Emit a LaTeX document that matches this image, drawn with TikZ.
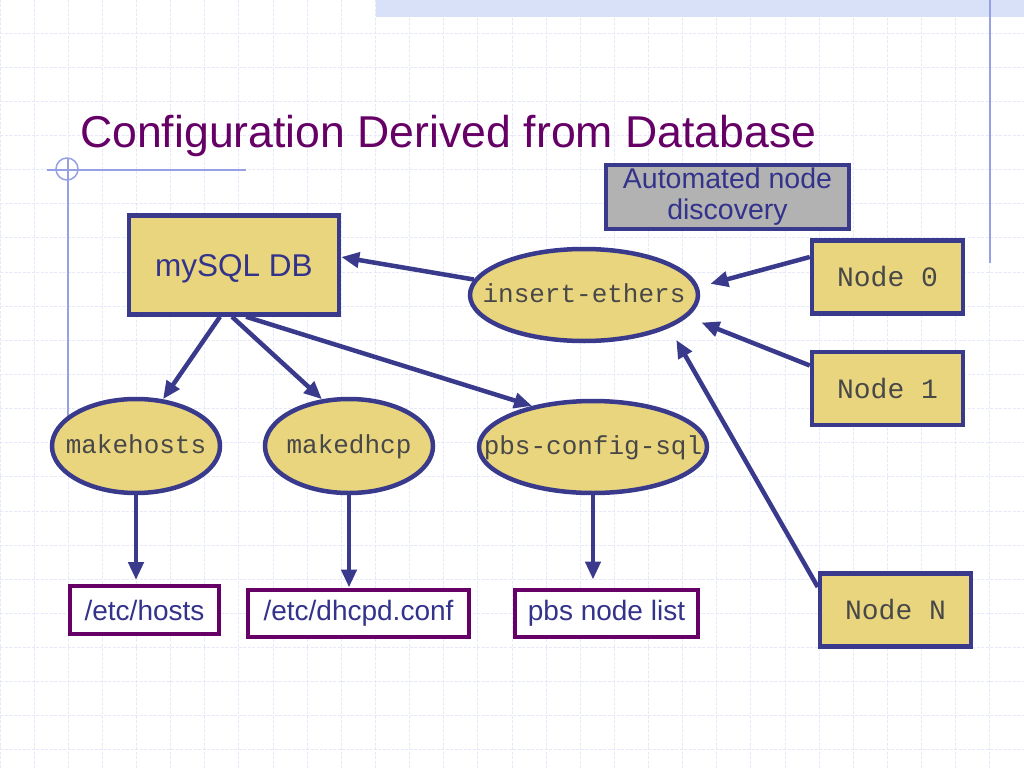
\documentclass[tikz,border=0pt]{standalone}
\usepackage{fontspec}
\setmainfont{Liberation Sans}
\setmonofont{Liberation Mono}
\usetikzlibrary{shapes.geometric,arrows.meta}
\definecolor{slidegrid}{RGB}{230,233,249}
\definecolor{bandblue}{RGB}{216,225,248}
\definecolor{decoline}{RGB}{150,160,228}
\definecolor{titlepurple}{RGB}{102,0,102}
\definecolor{boxblue}{RGB}{58,58,140}
\definecolor{textblue}{RGB}{51,51,140}
\definecolor{boxyellow}{RGB}{233,213,125}
\definecolor{boxgray}{RGB}{178,178,178}
\definecolor{monogray}{RGB}{72,72,72}

\begin{document}
\begin{tikzpicture}[x=1pt,y=-1pt]
      \tikzstyle{every node}+=[inner sep=0pt]
      \tikzstyle{gridline}=[slidegrid, line width=1pt, dash pattern=on 3pt off 1.5pt]
      \tikzstyle{dbbox}=[rectangle, draw=boxblue, fill=boxyellow, line width=4.5pt, text=textblue]
      \tikzstyle{hostbox}=[rectangle, draw=boxblue, fill=boxyellow, line width=4.5pt, text=monogray,
        minimum width=151pt, minimum height=73pt, font=\ttfamily\fontsize{28}{32}\selectfont]
      \tikzstyle{script}=[ellipse, draw=boxblue, fill=boxyellow, line width=4.5pt, text=monogray,
        inner xsep=-30pt, inner ysep=-10pt, text height=18pt, text depth=4pt,
        font=\ttfamily\fontsize{26}{30}\selectfont]
      \tikzstyle{outfile}=[rectangle, draw=titlepurple, fill=white, line width=4pt, text=textblue,
        minimum height=47pt, font=\fontsize{28}{32}\selectfont]
      \tikzstyle{arr}=[draw=boxblue, line width=4.5pt, -{Triangle[length=18pt,width=15pt]}]
      \useasboundingbox (0,0) rectangle (1024,768);
      \fill [white] (0,0) rectangle (1024,768);
      \foreach \i in {0,...,30}
        \draw [gridline] (\i*34.133,0) -- (\i*34.133,768);
      \foreach \j in {0,...,22}
        \draw [gridline] (0,\j*34.133-1) -- (1024,\j*34.133-1);
      \fill [bandblue] (376,0) rectangle (1024,17);
      \draw [decoline, line width=1.5pt] (990,0) -- (990,263);
      \draw [decoline, line width=1.5pt] (47,170) -- (246,170);
      \draw [decoline, line width=1.5pt] (68,158) -- (68,420);
      \draw [decoline, line width=1.5pt] (67,169) circle (11);
      \node [anchor=base west, text=titlepurple, font=\fontsize{44.6}{50}\selectfont] (title) at (80,147)
        {Configuration Derived from Database};
      \node [dbbox, minimum width=210pt, minimum height=99pt, text depth=0pt,
        font=\fontsize{31.5}{36}\selectfont] (db) at (234,265) {mySQL DB};
      \node [dbbox, fill=boxgray, minimum width=243pt, minimum height=64pt, align=center,
        font=\fontsize{28.5}{31}\selectfont] (disc) at (727.5,197) {Automated node\\discovery};
      \node [script, minimum width=228pt, minimum height=92pt] (ethers) at (584,295) {insert-ethers};
      \node [hostbox] (n0) at (887.5,277) {Node 0};
      \node [hostbox] (n1) at (887.5,388.5) {Node 1};
      \node [hostbox] (nN) at (895.5,610) {Node N};
      \node [script, minimum width=168pt, minimum height=94pt] (hosts) at (136,446) {makehosts};
      \node [script, minimum width=168pt, minimum height=94pt] (dhcp) at (349,446) {makedhcp};
      \node [script, minimum width=228pt, minimum height=92pt] (pbs) at (593,447) {pbs-config-sql};
      \node [outfile, minimum width=149pt, minimum height=48pt] (fhosts) at (144.5,610) {/etc/hosts};
      \node [outfile, minimum width=221pt] (fdhcp) at (358.5,613) {/etc/dhcpd.conf};
      \node [outfile, minimum width=183pt] (fpbs) at (606.5,613) {pbs node list};
      \draw [arr] (ethers.172) -- ([yshift=8pt]db.east);
      \draw [arr] ([xshift=-14pt]db.south) -- (hosts.60);
      \draw [arr] ([xshift=-2pt]db.south) -- (dhcp.120);
      \draw [arr] ([xshift=12pt]db.south) -- (pbs.146);
      \draw [arr, shorten >=12pt] ([yshift=20pt]n0.west) -- (ethers.4);
      \draw [arr, shorten >=15pt] ([yshift=23pt]n1.west) -- (ethers.-12);
      \draw [arr, shorten >=14pt] ([yshift=23pt]nN.west) -- (ethers.-21);
      \draw [arr, shorten >=4pt] (hosts.south) -- (hosts.south |- fhosts.north);
      \draw [arr] (dhcp.south) -- (dhcp.south |- fdhcp.north);
      \draw [arr, shorten >=8pt] (pbs.south) -- (pbs.south |- fpbs.north);
    \end{tikzpicture}
\end{document}
